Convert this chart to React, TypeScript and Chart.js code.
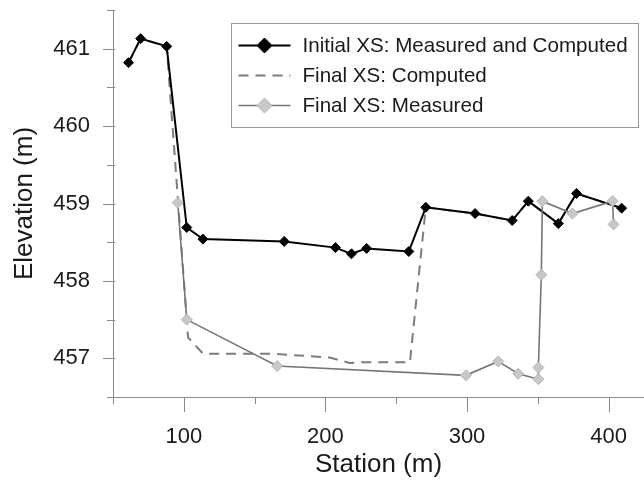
import React, { useEffect, useRef } from "react";
import { Chart, registerables } from "chart.js";

Chart.register(...registerables);

// ---- data ----
const initialStation = [61.0, 69.5, 87.9, 102.1, 113.5, 170.9, 207.1, 218.4, 229.1, 258.9, 270.9, 305.7, 331.9, 343.3, 364.5, 377.3, 409.2];
const initialElevation = [460.82, 461.13, 461.03, 458.69, 458.54, 458.51, 458.43, 458.35, 458.42, 458.38, 458.95, 458.87, 458.78, 459.03, 458.74, 459.13, 458.94];

const computedStation = [61.0, 69.5, 87.9, 103.0, 113.6, 161.0, 203.0, 217.0, 226.0, 259.7, 270.9, 305.7, 331.9, 343.3, 364.5, 377.3, 409.2];
const computedElevation = [460.82, 461.13, 461.03, 457.27, 457.06, 457.06, 457.01, 456.94, 456.95, 456.95, 458.95, 458.87, 458.78, 459.03, 458.74, 459.13, 458.94];

const measuredStation = [95.7, 102.1, 165.9, 299.3, 322.0, 336.2, 350.4, 350.4, 352.5, 353.2, 374.5, 402.8, 403.5];
const measuredElevation = [459.01, 457.5, 456.9, 456.78, 456.96, 456.8, 456.73, 456.88, 458.08, 459.03, 458.87, 459.03, 458.73];

const seriesLabels = ["Initial XS: Measured and Computed", "Final XS: Computed", "Final XS: Measured"];
const xTickValues = [50, 100, 150, 200, 250, 300, 350, 400];
const xTickLabels = ["100", "200", "300", "400"];
const yTickValues = [456.5, 457, 457.5, 458, 458.5, 459, 459.5, 460, 460.5, 461, 461.5];
const yTickLabels = ["457", "458", "459", "460", "461"];
const xAxisTitle = "Station (m)";
const yAxisTitle = "Elevation (m)";

// ---- styles ----
const FONT = "'Liberation Sans', Arial, sans-serif";
const TEXT = "#1a1a1a";
const AXIS = "#8a8a8a";

const toPoints = (xs: number[], ys: number[]) => xs.map((x, i) => ({ x, y: ys[i] }));

const isInt = (v: number) => Math.abs(v - Math.round(v)) < 1e-6;

const tickPlugin = {
  id: "customTicks",
  afterDraw(chart: any) {
    const { ctx } = chart;
    const xs = chart.scales.x;
    const ys = chart.scales.y;
    ctx.save();
    ctx.strokeStyle = AXIS;
    ctx.lineWidth = 1;
    xs.ticks.forEach((t: any) => {
      const px = Math.round(xs.getPixelForValue(t.value)) + 0.5;
      const major = Math.round(t.value) % 100 === 0;
      ctx.beginPath();
      ctx.moveTo(px, xs.top);
      ctx.lineTo(px, xs.top + (major ? 15 : 7));
      ctx.stroke();
    });
    ys.ticks.forEach((t: any) => {
      const py = Math.round(ys.getPixelForValue(t.value)) + 0.5;
      const major = isInt(t.value);
      ctx.beginPath();
      ctx.moveTo(ys.right + 2, py);
      ctx.lineTo(ys.right - (major ? 10 : 6), py);
      ctx.stroke();
    });
    ctx.restore();
  },
};

function drawDiamond(ctx: CanvasRenderingContext2D, x: number, y: number, r: number, fill: string, stroke: string) {
  ctx.beginPath();
  ctx.moveTo(x, y - r);
  ctx.lineTo(x + r, y);
  ctx.lineTo(x, y + r);
  ctx.lineTo(x - r, y);
  ctx.closePath();
  ctx.fillStyle = fill;
  ctx.fill();
  ctx.strokeStyle = stroke;
  ctx.lineWidth = 1;
  ctx.stroke();
}

const legendPlugin = {
  id: "boxLegend",
  afterDraw(chart: any) {
    const { ctx, chartArea } = chart;
    const x0 = chartArea.left + 118.5;
    const y0 = chartArea.top + 13.5;
    const w = 407;
    const h = 104;
    ctx.save();
    ctx.fillStyle = "#ffffff";
    ctx.fillRect(x0, y0, w, h);
    ctx.strokeStyle = "#9a9a9a";
    ctx.lineWidth = 1;
    ctx.strokeRect(x0, y0, w, h);
    [0, 1, 2].forEach((di, row) => {
      const ds = chart.data.datasets[di];
      const cy = y0 + 22 + row * 30;
      const lx0 = x0 + 7;
      const lx1 = x0 + 59;
      ctx.save();
      ctx.strokeStyle = ds.borderColor;
      ctx.lineWidth = ds.borderWidth;
      ctx.setLineDash(ds.borderDash || []);
      ctx.beginPath();
      ctx.moveTo(lx0, cy);
      ctx.lineTo(lx1, cy);
      ctx.stroke();
      ctx.restore();
      if (ds.pointRadius > 0) {
        drawDiamond(ctx, (lx0 + lx1) / 2, cy, 7.5, ds.pointBackgroundColor, ds.pointBorderColor);
      }
      ctx.fillStyle = TEXT;
      ctx.font = `20.6px ${FONT}`;
      ctx.textBaseline = "middle";
      ctx.textAlign = "left";
      ctx.fillText(ds.label, x0 + 71, cy + 1);
    });
    ctx.restore();
  },
};

export default function App() {
  const ref = useRef<HTMLCanvasElement>(null);

  useEffect(() => {
    document.body.style.margin = "0";
    const canvas = ref.current;
    if (!canvas) return;
    const chart = new Chart(canvas, {
      type: "scatter",
      data: {
        datasets: [
          {
            label: seriesLabels[0],
            data: toPoints(initialStation, initialElevation),
            showLine: true,
            borderColor: "#000000",
            borderWidth: 2,
            pointStyle: "rectRot",
            pointRadius: 5,
            pointBackgroundColor: "#000000",
            pointBorderColor: "#000000",
            pointBorderWidth: 1,
            order: 1,
          },
          {
            label: seriesLabels[1],
            data: toPoints(computedStation, computedElevation),
            showLine: true,
            borderColor: "#7c7c7c",
            borderWidth: 2,
            borderDash: [10, 7],
            pointRadius: 0,
            pointBackgroundColor: "#7c7c7c",
            pointBorderColor: "#7c7c7c",
            order: 2,
          },
          {
            label: seriesLabels[2],
            data: toPoints(measuredStation, measuredElevation),
            showLine: true,
            borderColor: "#757575",
            borderWidth: 1.6,
            pointStyle: "rectRot",
            pointRadius: 5.5,
            pointBackgroundColor: "#c8c8c8",
            pointBorderColor: "#b4b4b4",
            pointBorderWidth: 1,
            order: 0,
          },
        ],
      },
      options: {
        responsive: false,
        animation: false,
        devicePixelRatio: 1,
        layout: { autoPadding: false, padding: { top: 10, right: 0, bottom: 0, left: 0 } },
        plugins: {
          legend: { display: false },
          tooltip: { enabled: false },
        },
        scales: {
          x: {
            type: "linear",
            min: 50,
            max: 425,
            afterBuildTicks: (scale: any) => {
              scale.ticks = xTickValues.map((value) => ({ value }));
            },
            afterFit: (scale: any) => {
              scale.height = 83;
              scale.paddingLeft = 0;
              scale.paddingRight = 0;
            },
            ticks: {
              autoSkip: false,
              maxRotation: 0,
              padding: 12,
              color: TEXT,
              font: { family: FONT, size: 22 },
              callback: (v: any) => {
                const idx = xTickLabels.indexOf(String(v));
                return idx >= 0 ? xTickLabels[idx] : "";
              },
            },
            grid: {
              display: true,
              drawOnChartArea: false,
              drawTicks: true,
              tickLength: 15,
              tickColor: "rgba(0,0,0,0)",
            },
            border: { display: true, color: AXIS, width: 1 },
            title: {
              display: true,
              text: xAxisTitle,
              color: TEXT,
              font: { family: FONT, size: 26 },
              padding: { top: 0, bottom: 0 },
            },
          },
          y: {
            type: "linear",
            min: 456.5,
            max: 461.5,
            afterBuildTicks: (scale: any) => {
              scale.ticks = yTickValues.map((value) => ({ value }));
            },
            afterFit: (scale: any) => {
              scale.width = 113;
              scale.paddingTop = 0;
              scale.paddingBottom = 0;
            },
            ticks: {
              autoSkip: false,
              padding: 13,
              color: TEXT,
              font: { family: FONT, size: 22 },
              callback: (v: any) => {
                const idx = yTickLabels.indexOf(String(v));
                return idx >= 0 ? yTickLabels[idx] : "";
              },
            },
            grid: {
              display: true,
              drawOnChartArea: false,
              drawTicks: true,
              tickLength: 10,
              tickColor: "rgba(0,0,0,0)",
            },
            border: { display: true, color: AXIS, width: 1 },
            title: {
              display: true,
              text: yAxisTitle,
              color: TEXT,
              font: { family: FONT, size: 26 },
              padding: { top: 9, bottom: 0 },
            },
          },
        },
      },
      plugins: [tickPlugin, legendPlugin],
    });
    return () => chart.destroy();
  }, []);

  return (
    <div style={{ width: 644, height: 480 }}>
      <canvas ref={ref} width={644} height={480} style={{ display: "block" }} />
    </div>
  );
}
